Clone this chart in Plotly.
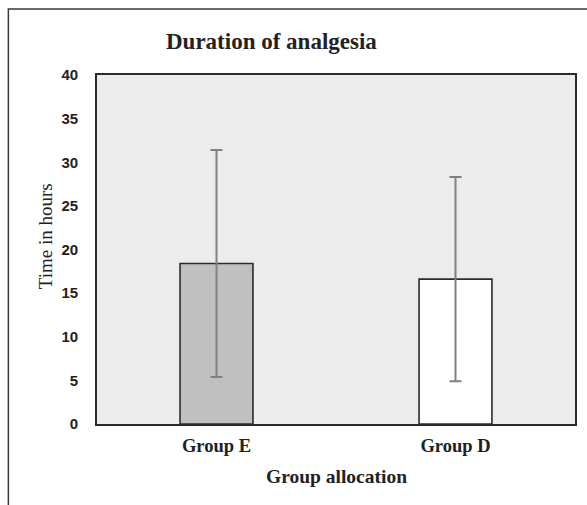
import plotly.graph_objects as go

# Mean duration of analgesia (hours) with standard deviation per group
groups = ["Group E", "Group D"]
mean_hours = [18.4, 16.6]
sd_hours = [13.0, 11.7]
bar_colors = ["#c0c0c0", "#ffffff"]
y_ticks = [0, 5, 10, 15, 20, 25, 30, 35, 40]

W, H = 587, 505
ml, mr, mt, mb = 97, 10, 75, 81
pw, ph = W - ml - mr, H - mt - mb

fig = go.Figure()
fig.add_trace(go.Bar(
    x=groups,
    y=mean_hours,
    marker=dict(color=bar_colors, line=dict(color="#2b2b2b", width=1.6)),
    error_y=dict(type="data", array=sd_hours, visible=True,
                 color="#808080", thickness=2, width=6),
    width=0.305,
))

serif = "Liberation Serif, Times New Roman, serif"

fig.update_layout(
    width=W, height=H,
    margin=dict(l=ml, r=mr, t=mt, b=mb),
    paper_bgcolor="white",
    plot_bgcolor="#ececec",
    showlegend=False,
    xaxis=dict(
        showline=True, linecolor="#2b2b2b", linewidth=1.6, mirror=True,
        showgrid=False, ticks="", ticklabelstandoff=4,
        tickfont=dict(family=serif, size=18.5, color="#222", weight="bold"),
    ),
    yaxis=dict(
        range=[0, 40], tickvals=y_ticks,
        showline=True, linecolor="#2b2b2b", linewidth=1.6, mirror=True,
        showgrid=False, ticks="", zeroline=False,
        tickfont=dict(family="Liberation Sans, Arial, sans-serif", size=15,
                      color="#222", weight="bold"),
        ticklabelstandoff=14,
    ),
    shapes=[
        # outer chart frame
        dict(type="rect", xref="paper", yref="paper",
             x0=(8 - ml) / pw, x1=(W + 20 - ml) / pw,
             y0=-(mb + 20) / ph, y1=(H - mb - 9) / ph,
             line=dict(color="#3a3a3a", width=1.5), fillcolor="rgba(0,0,0,0)",
             layer="below"),
    ],
    annotations=[
        dict(text="Duration of analgesia", xref="paper", yref="paper",
             x=(272 - ml) / pw, y=(H - mb - 42) / ph, xanchor="center", yanchor="middle",
             showarrow=False, font=dict(family=serif, size=23, color="#222", weight="bold")),
        dict(text="Time in hours", xref="paper", yref="paper",
             x=(45 - ml) / pw, y=(H - mb - 236) / ph, xanchor="center", yanchor="middle",
             textangle=-90, showarrow=False,
             font=dict(family=serif, size=19, color="#222")),
        dict(text="Group allocation", xref="paper", yref="paper",
             x=0.5, y=(H - mb - 476) / ph, xanchor="center", yanchor="middle",
             showarrow=False, font=dict(family=serif, size=19.5, color="#222", weight="bold")),
    ],
)

fig.write_html("out.html")
